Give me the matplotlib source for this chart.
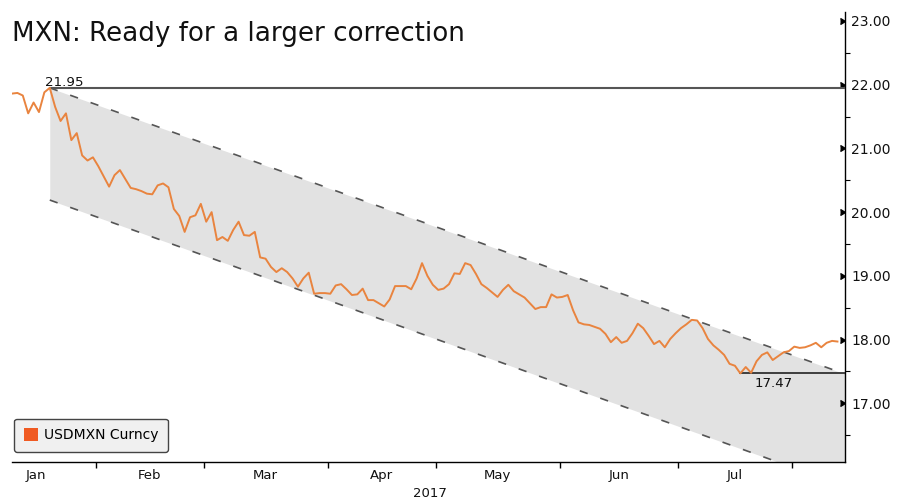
import numpy as np
import pandas as pd
import matplotlib
matplotlib.use('Agg')
import matplotlib.pyplot as plt
from matplotlib.patches import Patch
from matplotlib.lines import CARETRIGHT

# ---------------- data ----------------
start_date = '2017-01-10'
usdmxn = [
    21.86, 21.87, 21.83, 21.55, 21.72, 21.57, 21.88, 21.95, 21.65, 21.43,
    21.55, 21.13, 21.24, 20.89, 20.81, 20.86, 20.72, 20.56, 20.40, 20.58,
    20.66, 20.52, 20.38, 20.36, 20.33, 20.29, 20.28, 20.42, 20.45, 20.39,
    20.05, 19.94, 19.69, 19.92, 19.95, 20.13, 19.85, 20.00, 19.56, 19.61,
    19.55, 19.72, 19.85, 19.64, 19.63, 19.69, 19.29, 19.27, 19.14, 19.06,
    19.12, 19.06, 18.96, 18.83, 18.96, 19.05, 18.72, 18.73, 18.73, 18.72,
    18.85, 18.87, 18.79, 18.70, 18.71, 18.80, 18.62, 18.62, 18.57, 18.52,
    18.63, 18.84, 18.84, 18.84, 18.79, 18.96, 19.20, 19.00, 18.86, 18.78,
    18.80, 18.87, 19.04, 19.03, 19.20, 19.17, 19.03, 18.87, 18.81, 18.74,
    18.67, 18.78, 18.86, 18.76, 18.71, 18.66, 18.57, 18.48, 18.51, 18.51,
    18.71, 18.66, 18.67, 18.70, 18.46, 18.27, 18.24, 18.23, 18.20, 18.17,
    18.09, 17.96, 18.04, 17.95, 17.98, 18.10, 18.25, 18.18, 18.06, 17.93,
    17.98, 17.88, 18.01, 18.10, 18.18, 18.24, 18.31, 18.30, 18.18, 18.01,
    17.91, 17.84, 17.76, 17.62, 17.59, 17.47, 17.57, 17.48, 17.66, 17.76,
    17.80, 17.68, 17.74, 17.80, 17.82, 17.89, 17.87, 17.88, 17.91, 17.95,
    17.88, 17.95, 17.98, 17.97,
]
title = 'MXN: Ready for a larger correction'
series_name = 'USDMXN Curncy'
year_label = '2017'
channel_top = [21.95, 17.46]      # upper channel line: at the peak, at the right edge
channel_width = 1.76
ytick_values = [17, 18, 19, 20, 21, 22, 23]
yminor_values = [16.5, 17.5, 18.5, 19.5, 20.5, 21.5, 22.5]
month_names = ['Jan', 'Feb', 'Mar', 'Apr', 'May', 'Jun', 'Jul', 'Aug']

# ---------------- colors ----------------
LINE = '#e9843f'
LEG_SQ = '#f05a22'
FILL = '#e2e2e2'
DASH = '#555555'

plt.rcParams['font.family'] = ['DejaVu Sans']

cal = pd.bdate_range('2017-01-02', '2017-08-31')
dates = pd.bdate_range(start_date, periods=len(usdmxn))
x = cal.get_indexer(dates).astype(float)
vals = np.array(usdmxn)

fig = plt.figure(figsize=(8.97, 5.0), dpi=100)
ax = fig.add_axes([12 / 897, 38 / 500, 833 / 897, 450 / 500])
xmin, xmax = x[0], x[-1] + 1.4
ax.set_xlim(xmin, xmax)
ax.set_ylim(16.08, 23.14)

ipk = int(np.argmax(vals))
ilo = int(np.argmin(vals))

# channel
cx = np.array([x[ipk], xmax])
top = np.array(channel_top)
bot = top - channel_width
ax.fill_between(cx, bot, top, color=FILL, lw=0, zorder=1)
ax.plot(cx, top, color=DASH, lw=1.2, ls=(0, (5, 8)), zorder=2)
ax.plot(cx, bot, color=DASH, lw=1.2, ls=(0, (5, 8)), zorder=2)

# horizontal levels
ax.plot([x[ipk], xmax], [vals[ipk]] * 2, color='#555555', lw=1.5, zorder=3)
ax.plot([x[ilo], xmax], [vals[ilo]] * 2, color='#222222', lw=1.2, zorder=3)

# series
ax.plot(x, vals, color=LINE, lw=1.4, zorder=4)

ax.text(x[ipk] - 0.9, vals[ipk] + 0.035, f'{vals[ipk]:.2f}', ha='left',
        va='baseline', fontsize=9.6, color='#111111', zorder=5)
ax.text(x[ilo] + 2.6, vals[ilo] - 0.06, f'{vals[ilo]:.2f}', ha='left',
        va='top', fontsize=9.6, color='#111111', zorder=5)

# spines
for s in ['left', 'top']:
    ax.spines[s].set_visible(False)
for s in ['right', 'bottom']:
    ax.spines[s].set_color('black')
    ax.spines[s].set_linewidth(1.0)

# y axis (right)
ax.yaxis.tick_right()
ax.set_yticks(ytick_values)
ax.set_yticklabels([f'{v:.2f}' for v in ytick_values])
ax.set_yticks(yminor_values, minor=True)
ax.tick_params(axis='y', which='major', length=4, width=1, pad=0.5,
               labelsize=10, colors='black', labelcolor='#111111')
ax.tick_params(axis='y', which='minor', length=3.5, width=0.8, colors='black')
for t in ax.yaxis.get_major_ticks():
    t.tick2line.set_marker(CARETRIGHT)
    t.tick2line.set_markersize(5)
    t.tick2line.set_markerfacecolor('black')
    t.tick2line.set_markeredgecolor('black')

# x axis: ticks at month boundaries, labels at month centres
months = cal.month
bounds, centers, labels = [], [], []
for m in range(1, 9):
    idx = np.where(months == m)[0]
    if m > 1:
        b = idx[0] - 0.5
        if xmin <= b <= xmax:
            bounds.append(b)
    c = idx.mean()
    if c <= xmax:
        centers.append(c)
        labels.append(month_names[m - 1])
ax.set_xticks(bounds)
ax.set_xticklabels([])
ax.set_xticks(centers, minor=True)
ax.set_xticklabels(labels, minor=True)
ax.tick_params(axis='x', which='major', length=4, width=1, direction='out', colors='black')
ax.tick_params(axis='x', which='minor', length=0, pad=5, labelsize=9.5, labelcolor='#111111')

# legend
leg = ax.legend(handles=[Patch(facecolor=LEG_SQ, edgecolor='none', label=series_name)],
                loc='lower left', bbox_to_anchor=(0.0024, 0.022), frameon=True,
                fancybox=True, fontsize=10, handlelength=1.0, handleheight=1.0,
                borderpad=0.7, handletextpad=0.45, borderaxespad=0)
fr = leg.get_frame()
fr.set_facecolor('#f0f0f0')
fr.set_edgecolor('#444444')
fr.set_linewidth(1.0)
fr.set_alpha(1)

fig.text(12 / 897, 1 - 41 / 500, title, fontsize=18.8, va='baseline', ha='left', color='#111111')
fig.text(430 / 897, 3 / 500, year_label, fontsize=9.5, va='baseline', ha='center', color='#111111')

fig.savefig('out.png', dpi=100)
